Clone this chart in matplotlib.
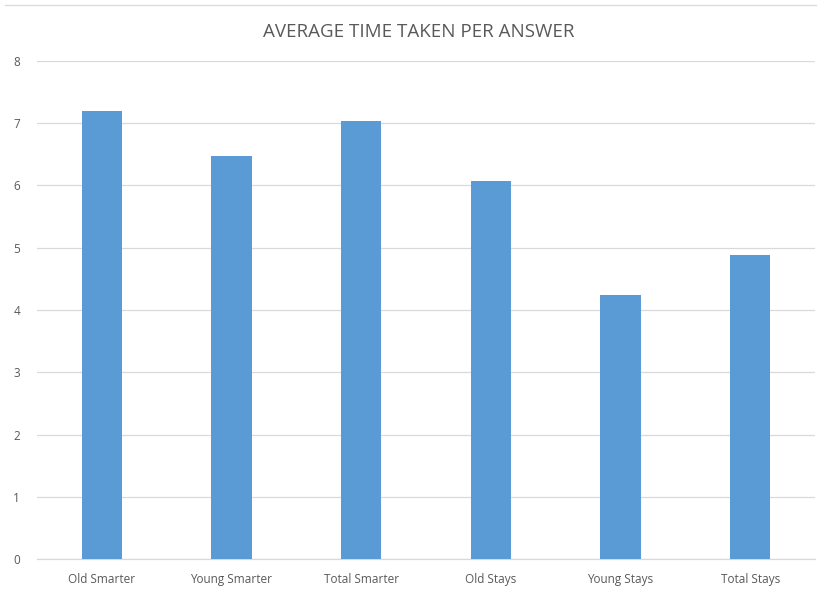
import matplotlib.pyplot as plt
from matplotlib.lines import Line2D

categories = ["Old Smarter", "Young Smarter", "Total Smarter",
              "Old Stays", "Young Stays", "Total Stays"]
avg_time = [7.20, 6.47, 7.04, 6.07, 4.24, 4.88]
y_ticks = [0, 1, 2, 3, 4, 5, 6, 7, 8]

plt.rcParams['font.family'] = ['Open Sans', 'DejaVu Sans']

fig = plt.figure(figsize=(8.2, 5.92), dpi=100)
ax = fig.add_axes([0.045, 0.0557, 0.949, 0.8413])

x = range(len(categories))
ax.bar(x, avg_time, width=0.31, color="#5B9BD5", zorder=3)

ax.set_xlim(-0.5, len(categories) - 0.5)
ax.set_ylim(0, 8)
ax.set_yticks(y_ticks)
ax.set_xticks(list(x))
ax.set_xticklabels(categories)
ax.tick_params(axis='both', length=0, labelsize=8.5, colors="#595959")
ax.tick_params(axis='x', pad=10)
ax.tick_params(axis='y', pad=12)
ax.yaxis.grid(True, color="#D9D9D9", linewidth=0.9, zorder=0)
for s in ["top", "right", "left"]:
    ax.spines[s].set_visible(False)
ax.spines["bottom"].set_color("#D9D9D9")
ax.spines["bottom"].set_linewidth(0.9)

fig.text(0.511, 0.946, "AVERAGE TIME TAKEN PER ANSWER", ha="center", va="center",
         fontsize=13.5, color="#595959")

# thin frame line at top of the chart area
fig.add_artist(Line2D([0.006, 0.995], [0.992, 0.992], color="#D9D9D9",
                      linewidth=0.9, transform=fig.transFigure))

fig.savefig("out.png", dpi=100)
